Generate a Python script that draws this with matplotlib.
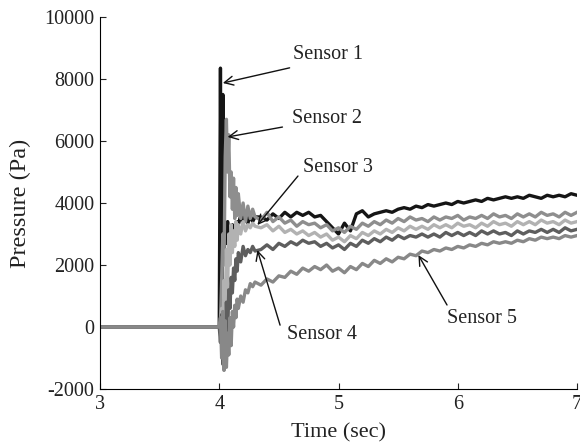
import matplotlib
matplotlib.use("Agg")
import matplotlib.pyplot as plt

plt.rcParams["font.family"] = ["Liberation Serif", "DejaVu Serif"]
plt.rcParams["axes.unicode_minus"] = False

# sample times (s)
time = [3.00, 3.50, 3.98, 4.00, 4.01, 4.02, 4.03, 4.04, 4.05, 4.06,
        4.07, 4.08, 4.09, 4.10, 4.11, 4.12, 4.13, 4.14, 4.15, 4.16,
        4.18, 4.20, 4.22, 4.24, 4.26, 4.28, 4.30,
        4.35, 4.40, 4.45, 4.50, 4.55, 4.60, 4.65, 4.70, 4.75, 4.80,
        4.85, 4.90, 4.95, 5.00, 5.05, 5.10, 5.15, 5.20, 5.25, 5.30,
        5.35, 5.40, 5.45, 5.50, 5.55, 5.60, 5.65, 5.70, 5.75, 5.80,
        5.85, 5.90, 5.95, 6.00, 6.05, 6.10, 6.15, 6.20, 6.25, 6.30,
        6.35, 6.40, 6.45, 6.50, 6.55, 6.60, 6.65, 6.70, 6.75, 6.80,
        6.85, 6.90, 6.95, 7.00]

# pressure (Pa)
sensor1 = [0, 0, 0, 0, 8350, -300, 7500, 2200, 3300, 2700,
           3400, 2900, 3100, 2600, 3300, 2800, 3200, 3000, 3400, 3300,
           3600, 3400, 3650, 3350, 3600, 3400, 3550,
           3550, 3450, 3650, 3500, 3700, 3550, 3700, 3600, 3700, 3550,
           3600, 3400, 3200, 3000, 3350, 3100, 3650, 3750, 3550, 3650,
           3700, 3750, 3700, 3800, 3850, 3800, 3900, 3850, 3950, 3900,
           3950, 4000, 3950, 4050, 4000, 4050, 4100, 4050, 4150, 4100,
           4150, 4200, 4150, 4200, 4150, 4250, 4200, 4150, 4250, 4200,
           4250, 4200, 4300, 4250]
sensor2 = [0, 0, 0, 0, 200, 1500, 3000, 2000, 5500, 6700,
           5000, 6200, 4200, 5000, 3800, 4800, 3500, 4500, 3600, 4300,
           3500, 4000, 3400, 3900, 3500, 3800, 3550,
           3450, 3700, 3400, 3550, 3350, 3450, 3250, 3400, 3300, 3350,
           3200, 3300, 3100, 3200, 3050, 3250, 3150, 3350, 3250, 3400,
           3300, 3450, 3350, 3500, 3400, 3550, 3450, 3500, 3400, 3550,
           3450, 3550, 3500, 3600, 3450, 3550, 3500, 3600, 3500, 3650,
           3550, 3600, 3500, 3650, 3550, 3650, 3550, 3700, 3600, 3650,
           3550, 3700, 3600, 3700]
sensor3 = [0, 0, 0, 0, -200, 600, -800, 1500, 400, 2500,
           1200, 3000, 2000, 3300, 2400, 3100, 2600, 3400, 2800, 3300,
           3000, 3400, 3100, 3300, 3200, 3350, 3250,
           3200, 3300, 3100, 3250, 3050, 3150, 3000, 3100, 2950, 3050,
           2900, 3000, 2800, 2900, 2750, 2950, 2850, 3050, 2950, 3100,
           3000, 3150, 3050, 3200, 3100, 3250, 3150, 3250, 3150, 3300,
           3200, 3300, 3200, 3350, 3250, 3300, 3200, 3350, 3250, 3400,
           3300, 3350, 3250, 3400, 3300, 3400, 3300, 3450, 3350, 3400,
           3300, 3450, 3350, 3400]
sensor4 = [0, 0, 0, 0, -500, 400, -1200, 300, -900, 800,
           -300, 1200, 600, 1600, 1100, 1900, 1500, 2200, 1800, 2400,
           2100, 2600, 2300, 2500, 2400, 2600, 2450,
           2500, 2650, 2500, 2700, 2600, 2750, 2650, 2800, 2700, 2750,
           2600, 2700, 2550, 2650, 2500, 2700, 2600, 2800, 2700, 2850,
           2750, 2900, 2800, 2950, 2850, 2950, 2900, 3000, 2900, 3000,
           2900, 3050, 2950, 3050, 2950, 3050, 2950, 3100, 3000, 3100,
           3000, 3050, 2950, 3100, 3000, 3100, 3050, 3150, 3050, 3150,
           3050, 3200, 3100, 3150]
sensor5 = [0, 0, 0, 0, 300, -1000, 500, -1400, 200, -1300,
           -200, -900, 300, -600, 500, 0, 700, 300, 900, 600,
           1000, 800, 1200, 1100, 1400, 1300, 1450,
           1350, 1550, 1450, 1650, 1600, 1800, 1700, 1900, 1800, 1950,
           1850, 2000, 1800, 1900, 1750, 1950, 1850, 2050, 1950, 2150,
           2050, 2200, 2100, 2250, 2200, 2350, 2300, 2450, 2400, 2500,
           2450, 2550, 2500, 2600, 2550, 2650, 2600, 2700, 2650, 2750,
           2700, 2750, 2700, 2800, 2750, 2850, 2800, 2900, 2850, 2900,
           2850, 2950, 2900, 2950]

series = [sensor1, sensor2, sensor3, sensor4, sensor5]
colors = ["#151515", "#8e8e8e", "#b2b2b2", "#5e5e5e", "#888888"]

# label text position, arrow tail, arrow tip (data coords)
labels = ["Sensor 1", "Sensor 2", "Sensor 3", "Sensor 4", "Sensor 5"]
text_xy = [(4.62, 8780), (4.61, 6710), (4.70, 5130), (4.57, -230), (5.91, 290)]
tail_xy = [(4.59, 8360), (4.53, 6450), (4.66, 4870), (4.51, 60), (5.91, 710)]
tip_xy = [(4.03, 7870), (4.07, 6130), (4.32, 3290), (4.32, 2480), (5.67, 2320)]

fig = plt.figure(figsize=(5.8, 4.45), dpi=100)
ax = fig.add_axes([100 / 580, 1 - 389 / 445, 477 / 580, 372 / 445])

for y, c in zip(series, colors):
    ax.plot(time, y, color=c, lw=2.4)

for lab, txy, a, b in zip(labels, text_xy, tail_xy, tip_xy):
    ax.text(txy[0], txy[1], lab, fontsize=14.5, ha="left", va="center", color="#222222")
    ax.annotate("", xy=b, xytext=a,
                arrowprops=dict(arrowstyle="->", lw=1.0, color="#111111",
                                mutation_scale=16, shrinkA=0, shrinkB=0))

ax.set_xlim(3, 7)
ax.set_ylim(-2000, 10000)
ax.set_xticks([3, 4, 5, 6, 7])
ax.set_yticks([-2000, 0, 2000, 4000, 6000, 8000, 10000])
ax.spines["top"].set_visible(False)
ax.spines["right"].set_visible(False)
ax.tick_params(direction="in", length=4, width=0.8, labelsize=14.5, pad=4,
               colors="#222222")

ax.set_xlabel("Time (sec)", fontsize=16, color="#222222")
ax.set_ylabel("Pressure (Pa)", fontsize=17.5, color="#222222")
ax.xaxis.set_label_coords(0.5, -0.092)
ax.yaxis.set_label_coords(-0.145, 0.5)

fig.savefig("out.png", dpi=100)
